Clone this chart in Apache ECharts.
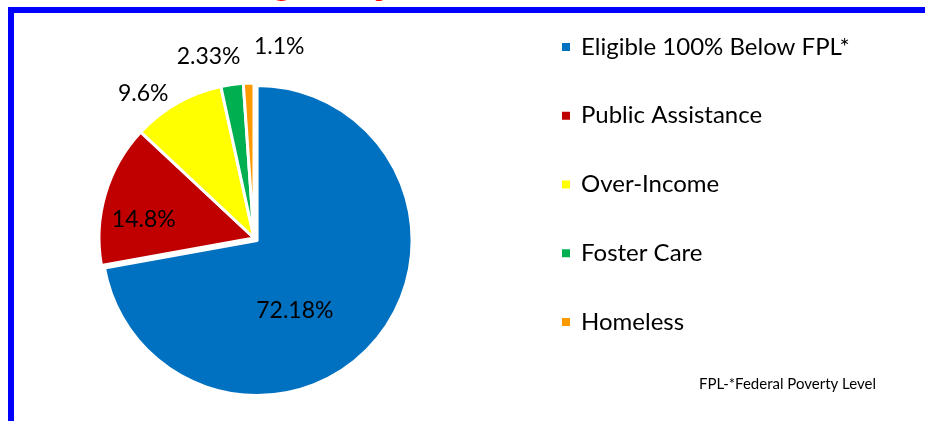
<!DOCTYPE html>
<html>
<head>
<meta charset="utf-8">
<script src="https://cdn.jsdelivr.net/npm/echarts@6/dist/echarts.min.js"></script>
<style>
  html, body { margin: 0; padding: 0; background: #fff; }
  #chart { width: 925px; height: 421px; }
</style>
</head>
<body>
<div id="chart"></div>
<script>
// categories and shares (%)
var categories = ['Eligible 100% Below FPL*', 'Public Assistance', 'Over-Income', 'Foster Care', 'Homeless'];
var shares = [72.18, 14.8, 9.6, 2.33, 1.1];
var colors = ['#0070C0', '#C00000', '#FFFF00', '#00B050', '#FF9900'];
// label nudges from the inside position, [dx, dy]
var labelShift = [[-24, 18], [-33, 4], [-71, -74], [-34, -102], [28, -111]];
var footnote = 'FPL-*Federal Poverty Level';
var titleText = 'Eligibility';

var chart = echarts.init(document.getElementById('chart'));

var pieData = categories.map(function (name, i) {
    return {
        name: name,
        value: shares[i],
        selected: i === 0,
        itemStyle: { color: colors[i] }
    };
});

var option = {
    animation: false,
    backgroundColor: '#fff',
    legend: {
        orient: 'vertical',
        left: 555,
        top: 30,
        icon: 'rect',
        itemWidth: 10,
        itemHeight: 10,
        itemGap: 44.75,
        selectedMode: false,
        textStyle: {
            fontFamily: 'Lato',
            fontSize: 24,
            lineHeight: 24,
            color: '#000',
            padding: [0, 0, 0, 5]
        },
        data: categories
    },
    graphic: [
        {
            // title sits above the frame, only its descenders show
            type: 'text',
            left: 222,
            top: -37,
            style: {
                text: titleText,
                font: 'bold 39px "Liberation Sans"',
                fill: '#FF0000'
            },
            z: 1
        },
        {
            type: 'rect',
            shape: { x: 11, y: 10, width: 1000, height: 500 },
            style: { fill: 'none', stroke: '#0000FF', lineWidth: 6 },
            z: 2
        },
        {
            type: 'text',
            left: 699,
            top: 377,
            style: {
                text: footnote,
                font: '15px Lato',
                fill: '#000'
            }
        }
    ],
    series: [{
        type: 'pie',
        center: [254, 238],
        radius: 155,
        startAngle: 90,
        clockwise: true,
        selectedMode: 'single',
        selectedOffset: 4,
        itemStyle: { borderColor: '#fff', borderWidth: 3 },
        select: { itemStyle: { borderColor: '#fff', borderWidth: 3 } },
        emphasis: { disabled: true },
        label: {
            show: true,
            position: 'inside',
            formatter: '{c}%',
            fontFamily: 'Lato',
            fontSize: 23,
            color: '#000'
        },
        labelLine: { show: false },
        labelLayout: function (params) {
            var s = labelShift[params.dataIndex];
            return { dx: s[0], dy: s[1] };
        },
        data: pieData
    }]
};

chart.setOption(option);
</script>
</body>
</html>
